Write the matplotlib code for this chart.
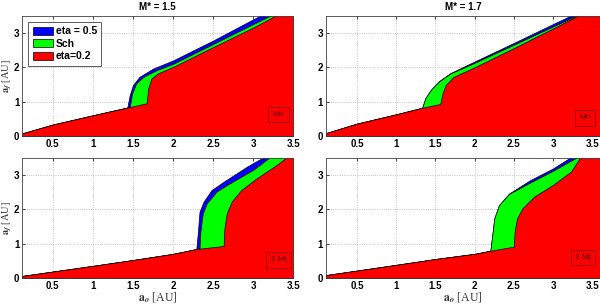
import numpy as np
import matplotlib.pyplot as plt
from matplotlib.patches import Patch

plt.rcParams['font.family'] = 'Liberation Sans'
plt.rcParams['font.weight'] = 'bold'
plt.rcParams['mathtext.fontset'] = 'stix'

# panel titles / planet labels
titles = ['M* = 1.5', 'M* = 1.7', '', '']
planet = ['Mn', 'Mn', '2 Mj', '2 Mj']

# M*=1.5, Mn
p1_eta05_x = [0.1, 0.5, 1.0, 1.43, 1.46, 1.5, 1.58, 1.75, 2.0, 2.25, 2.5, 3.0, 3.6]
p1_eta05_y = [0.06, 0.33, 0.6, 0.83, 1.19, 1.48, 1.72, 1.96, 2.2, 2.49, 2.78, 3.4, 4.1]
p1_sch_x = [0.1, 0.5, 1.0, 1.46, 1.49, 1.54, 1.63, 1.79, 2.0, 2.5, 3.0, 3.25, 3.6]
p1_sch_y = [0.06, 0.33, 0.6, 0.84, 1.24, 1.53, 1.72, 1.91, 2.1, 2.68, 3.26, 3.55, 3.95]
p1_red_x = [0.1, 0.5, 1.0, 1.46, 1.67, 1.69, 1.73, 1.81, 2.0, 2.5, 3.0, 3.29, 3.6]
p1_red_y = [0.06, 0.33, 0.6, 0.84, 0.95, 1.38, 1.67, 1.82, 2.01, 2.59, 3.16, 3.52, 3.85]

# M*=1.7, Mn
p2_eta05_x = [0.1, 0.5, 1.0, 1.33, 1.37, 1.44, 1.54, 1.69, 2.0, 2.5, 3.0, 3.24, 3.6]
p2_eta05_y = [0.08, 0.36, 0.63, 0.82, 1.1, 1.34, 1.59, 1.83, 2.17, 2.71, 3.26, 3.52, 3.9]
p2_sch_x = [0.1, 0.5, 1.0, 1.33, 1.37, 1.44, 1.54, 1.69, 2.0, 2.5, 3.0, 3.31, 3.6]
p2_sch_y = [0.08, 0.36, 0.63, 0.82, 1.1, 1.34, 1.58, 1.82, 2.13, 2.66, 3.19, 3.52, 3.85]
p2_red_x = [0.1, 0.5, 1.0, 1.33, 1.56, 1.59, 1.63, 1.73, 2.0, 2.5, 3.0, 3.33, 3.6]
p2_red_y = [0.08, 0.36, 0.63, 0.82, 0.93, 1.24, 1.48, 1.72, 2.0, 2.56, 3.13, 3.52, 3.8]

# M*=1.5, 2 Mj
p3_eta05_x = [0.1, 1.0, 1.5, 2.0, 2.29, 2.31, 2.33, 2.38, 2.48, 2.63, 2.92, 3.13, 3.6]
p3_eta05_y = [0.05, 0.35, 0.52, 0.7, 0.84, 1.34, 1.93, 2.22, 2.56, 2.8, 3.24, 3.52, 4.1]
p3_sch_x = [0.1, 1.0, 1.5, 2.0, 2.29, 2.33, 2.34, 2.37, 2.42, 2.54, 2.71, 3.0, 3.21, 3.6]
p3_sch_y = [0.05, 0.35, 0.52, 0.7, 0.84, 0.85, 1.34, 1.88, 2.17, 2.51, 2.76, 3.15, 3.52, 4.0]
p3_red_x = [0.1, 1.0, 1.5, 2.0, 2.29, 2.63, 2.64, 2.67, 2.73, 2.85, 3.04, 3.29, 3.42, 3.6]
p3_red_y = [0.05, 0.35, 0.52, 0.7, 0.84, 0.93, 1.44, 1.88, 2.22, 2.56, 2.9, 3.29, 3.52, 3.7]

# M*=1.7, 2 Mj
p4_eta05_x = [0.1, 1.0, 1.5, 2.0, 2.2, 2.23, 2.25, 2.31, 2.44, 2.71, 3.0, 3.23, 3.6]
p4_eta05_y = [0.08, 0.38, 0.55, 0.7, 0.79, 1.34, 1.73, 2.12, 2.46, 2.85, 3.19, 3.52, 4.0]
p4_sch_x = [0.1, 1.0, 1.5, 2.0, 2.2, 2.23, 2.25, 2.31, 2.44, 2.71, 3.0, 3.31, 3.6]
p4_sch_y = [0.08, 0.38, 0.55, 0.7, 0.79, 1.34, 1.73, 2.12, 2.45, 2.78, 3.12, 3.52, 3.85]
p4_red_x = [0.1, 1.0, 1.5, 2.0, 2.2, 2.5, 2.51, 2.54, 2.61, 2.76, 3.0, 3.23, 3.35, 3.6]
p4_red_y = [0.08, 0.38, 0.55, 0.7, 0.79, 0.91, 1.34, 1.73, 2.03, 2.37, 2.71, 3.1, 3.52, 3.75]

panels = [
    [(p1_eta05_x, p1_eta05_y), (p1_sch_x, p1_sch_y), (p1_red_x, p1_red_y)],
    [(p2_eta05_x, p2_eta05_y), (p2_sch_x, p2_sch_y), (p2_red_x, p2_red_y)],
    [(p3_eta05_x, p3_eta05_y), (p3_sch_x, p3_sch_y), (p3_red_x, p3_red_y)],
    [(p4_eta05_x, p4_eta05_y), (p4_sch_x, p4_sch_y), (p4_red_x, p4_red_y)],
]
colors = ['#0000ff', '#00ff00', '#ff0000']
labels = ['eta = 0.5', 'Sch', 'eta=0.2']

fig = plt.figure(figsize=(6, 3.04), dpi=100)
positions = [
    [0.037, 0.553, 0.452, 0.395],
    [0.543, 0.553, 0.457, 0.395],
    [0.037, 0.086, 0.452, 0.395],
    [0.543, 0.086, 0.457, 0.395],
]
xlims = [(0.12, 3.5), (0.1, 3.6), (0.12, 3.5), (0.1, 3.6)]
box_pos = [(0.945, 0.18), (0.945, 0.15), (0.945, 0.15), (0.937, 0.17)]

for i, pos in enumerate(positions):
    ax = fig.add_axes(pos)
    for (x, y), c in zip(panels[i], colors):
        ax.fill_between(x, 0, y, facecolor=c, edgecolor='k', linewidth=0.5)
    ax.set_xlim(*xlims[i])
    ax.set_ylim(0, 3.5)
    ax.set_xticks([0.5, 1, 1.5, 2, 2.5, 3, 3.5])
    ax.set_xticklabels(['0.5', '1', '1.5', '2', '2.5', '3', '3.5'])
    ax.set_yticks([0, 1, 2, 3])
    ax.set_axisbelow(True)
    ax.grid(True, linestyle=':', color='#b0b0b0', linewidth=0.6)
    ax.tick_params(direction='in', length=2, width=0.5, labelsize=7, pad=2,
                   top=True, right=True)
    for s in ax.spines.values():
        s.set_linewidth(0.6)
        s.set_color('#404040')
        s.set_zorder(5)
    if titles[i]:
        ax.set_title(titles[i], fontsize=7, fontweight='bold', pad=4)
    if i % 2 == 0:
        ax.set_ylabel(r'$\mathrm{a}_f$ [AU]', fontfamily='Liberation Serif',
                      fontweight='normal', fontsize=7.5, labelpad=0, color='#333333')
    if i >= 2:
        ax.set_xlabel(r'$\mathrm{a}_o$ [AU]', fontfamily='Liberation Serif',
                      fontweight='normal', fontsize=8.5, labelpad=0, color='#333333')
    ax.text(box_pos[i][0], box_pos[i][1], planet[i], transform=ax.transAxes,
            fontsize=6, fontweight='normal', color='#4a0000', ha='center', va='center',
            bbox=dict(boxstyle='square,pad=0.5', facecolor='#ff0000',
                      edgecolor='#8a0000', linewidth=0.6), zorder=6)
    if i == 0:
        handles = [Patch(facecolor=c, edgecolor='k', linewidth=0.5) for c in colors]
        leg = ax.legend(handles, labels, loc='upper left',
                        prop={'weight': 'bold', 'size': 7.5},
                        handlelength=2.0, handleheight=0.8, handletextpad=0.25,
                        labelspacing=0.25, borderpad=0.4, borderaxespad=0.6,
                        fancybox=False, framealpha=1)
        leg.get_frame().set_edgecolor('#404040')
        leg.get_frame().set_linewidth(0.6)
        leg.set_zorder(7)

fig.savefig('out.png', dpi=100)
